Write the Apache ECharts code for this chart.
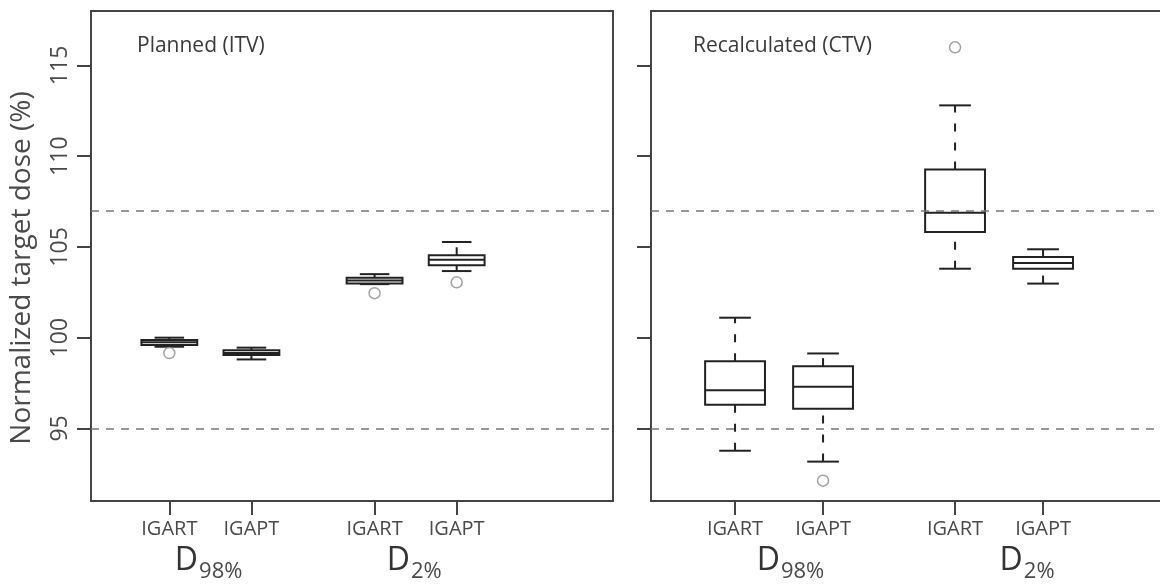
<!DOCTYPE html>
<html>
<head>
<meta charset="utf-8">
<script src="https://cdn.jsdelivr.net/npm/echarts@6/dist/echarts.min.js"></script>
<style>
html, body { margin: 0; padding: 0; background: #fff; }
#main { width: 1160px; height: 586px; }
</style>
</head>
<body>
<div id="main"></div>
<script>
// x positions of the four boxes (same in both panels)
var positions = [1, 2, 3.5, 4.5];
var groupNames = ['IGART', 'IGAPT', 'IGART', 'IGAPT'];
var metricNames = ['98%', '2%'];
var yTicks = [95, 100, 105, 110, 115];
var refLines = [95, 107];

// [low whisker, q1, median, q3, high whisker]
var plannedStats = [
	[99.5, 99.6, 99.75, 99.87, 100.0],
	[98.8, 99.05, 99.15, 99.3, 99.45],
	[102.95, 102.98, 103.15, 103.3, 103.5],
	[103.67, 103.99, 104.3, 104.54, 105.27]
];
var plannedOutliers = [[1, 99.15], [3.5, 102.45], [4.5, 103.05]];

var recalcStats = [
	[93.77, 96.3, 97.1, 98.7, 101.1],
	[93.17, 96.08, 97.29, 98.43, 99.13],
	[103.8, 105.82, 106.89, 109.27, 112.8],
	[102.98, 103.8, 104.12, 104.44, 104.87]
];
var recalcOutliers = [[2, 92.12], [3.5, 116.0]];

var FONT = 'Open Sans';
var INK = '#222';
var GREY = '#4a4a4a';

function boxData(stats) {
	var out = [];
	for (var i = 0; i < stats.length; i++) {
		out.push([positions[i]].concat(stats[i]));
	}
	return out;
}

function renderBox(params, api) {
	var x = api.value(0);
	var pLow = api.coord([x, api.value(1)]);
	var pQ1 = api.coord([x, api.value(2)]);
	var pMed = api.coord([x, api.value(3)]);
	var pQ3 = api.coord([x, api.value(4)]);
	var pHigh = api.coord([x, api.value(5)]);
	var halfBox = api.size([0.34, 0])[0];
	var halfCap = api.size([0.18, 0])[0];
	var solid = { stroke: INK, lineWidth: 2, fill: null };
	var dashed = { stroke: INK, lineWidth: 2, lineDash: [8, 11], fill: null };
	var cx = pMed[0];
	return {
		type: 'group',
		children: [
			{ type: 'line', shape: { x1: cx, y1: pLow[1], x2: cx, y2: pQ1[1] }, style: dashed },
			{ type: 'line', shape: { x1: cx, y1: pQ3[1], x2: cx, y2: pHigh[1] }, style: dashed },
			{ type: 'line', shape: { x1: cx - halfCap, y1: pLow[1], x2: cx + halfCap, y2: pLow[1] }, style: solid },
			{ type: 'line', shape: { x1: cx - halfCap, y1: pHigh[1], x2: cx + halfCap, y2: pHigh[1] }, style: solid },
			{ type: 'rect', shape: { x: cx - halfBox, y: pQ3[1], width: halfBox * 2, height: pQ1[1] - pQ3[1] },
				style: { stroke: INK, lineWidth: 2, fill: '#fff' } },
			{ type: 'line', shape: { x1: cx - halfBox, y1: pMed[1], x2: cx + halfBox, y2: pMed[1] }, style: solid }
		]
	};
}

function xAxisFor(gridIndex, min, max) {
	return {
		type: 'value', gridIndex: gridIndex, min: min, max: max,
		axisLine: { show: false },
		splitLine: { show: false },
		axisTick: { show: true, customValues: positions, length: 14, lineStyle: { color: '#444', width: 2 } },
		axisLabel: {
			customValues: positions, margin: 18, fontSize: 20, color: GREY, fontFamily: FONT,
			formatter: function (v) { return groupNames[positions.indexOf(v)]; }
		}
	};
}

function yAxisFor(gridIndex, showLabel) {
	return {
		type: 'value', gridIndex: gridIndex, min: 91, max: 118,
		axisLine: { show: false },
		splitLine: { show: false },
		axisTick: { show: true, customValues: yTicks, length: 14, lineStyle: { color: '#444', width: 2 } },
		axisLabel: { show: showLabel, customValues: yTicks, rotate: 90, margin: 19, fontSize: 23, color: GREY, fontFamily: FONT }
	};
}

function refLineMark() {
	var data = [];
	for (var i = 0; i < refLines.length; i++) data.push({ yAxis: refLines[i] });
	return {
		silent: true, symbol: 'none', label: { show: false },
		lineStyle: { color: '#777', width: 1.5, type: [8, 7] },
		data: data
	};
}

function outlierSeries(idx, list) {
	return {
		type: 'scatter', xAxisIndex: idx, yAxisIndex: idx, data: list,
		symbol: 'circle', symbolSize: 11,
		itemStyle: { color: '#fff', borderColor: '#8a8a8a', borderWidth: 1.5 },
		z: 5
	};
}

var chart = echarts.init(document.getElementById('main'));
chart.setOption({
	animation: false,
	textStyle: { fontFamily: FONT },
	grid: [
		{ left: 91, top: 11, width: 522, height: 490, show: true, borderColor: '#444', borderWidth: 2, outerBoundsMode: 'none' },
		{ left: 651, top: 11, width: 559, height: 490, show: true, borderColor: '#444', borderWidth: 2, outerBoundsMode: 'none' }
	],
	xAxis: [xAxisFor(0, 0.046, 6.404), xAxisFor(1, 0.045, 6.397)],
	yAxis: [yAxisFor(0, true), yAxisFor(1, false)],
	series: [
		{ type: 'custom', xAxisIndex: 0, yAxisIndex: 0, data: boxData(plannedStats), renderItem: renderBox,
			markLine: refLineMark(), z: 3 },
		outlierSeries(0, plannedOutliers),
		{ type: 'custom', xAxisIndex: 1, yAxisIndex: 1, data: boxData(recalcStats), renderItem: renderBox,
			markLine: refLineMark(), z: 3 },
		outlierSeries(1, recalcOutliers)
	]
});

// D98% / D2% labels under each panel (x = where "D" ends and the subscript starts)
var metricAnchors = [[1.35, 3.93], [1.51, 4.27]];
var graphics = [
	{ type: 'text', x: 22, y: 268, rotation: Math.PI / 2,
		style: { text: 'Normalized target dose (%)', fontSize: 28, fill: GREY, fontFamily: FONT, align: 'center', verticalAlign: 'middle' } },
	{ type: 'text', x: 137, y: 46,
		style: { text: 'Planned (ITV)', fontSize: 21, fill: '#3a3a3a', fontFamily: FONT, align: 'left', verticalAlign: 'middle' } },
	{ type: 'text', x: 693, y: 46,
		style: { text: 'Recalculated (CTV)', fontSize: 21, fill: '#3a3a3a', fontFamily: FONT, align: 'left', verticalAlign: 'middle' } }
];
for (var g = 0; g < 2; g++) {
	for (var m = 0; m < metricNames.length; m++) {
		var px = chart.convertToPixel({ gridIndex: g }, [metricAnchors[g][m], 100])[0];
		graphics.push({ type: 'text', x: px, y: 561,
			style: { text: 'D', fontSize: 32, fill: '#333', fontFamily: FONT, align: 'right', verticalAlign: 'middle' } });
		graphics.push({ type: 'text', x: px + 1, y: 572,
			style: { text: metricNames[m], fontSize: 22, fill: GREY, fontFamily: FONT, align: 'left', verticalAlign: 'middle' } });
	}
}
chart.setOption({ graphic: graphics });
</script>
</body>
</html>
